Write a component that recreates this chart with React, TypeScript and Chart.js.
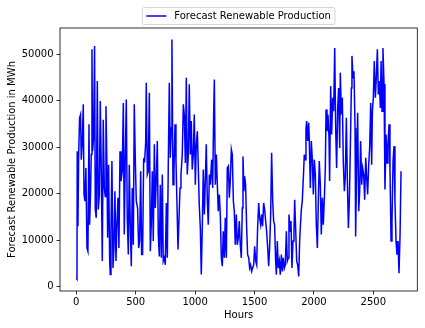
import React, { useEffect, useRef } from "react";
import { Chart, registerables } from "chart.js";

Chart.register(...registerables);

const seriesLabel = "Forecast Renewable Production";
const xTitle = "Hours";
const yTitle = "Forecast Renewable Production in MWh";
const xTicks = [0, 500, 1000, 1500, 2000, 2500];
const yTicks = [0, 10000, 20000, 30000, 40000, 50000];

const hours = [
  0, 6, 8, 14, 20, 28, 36, 42, 51, 59, 65, 73, 81, 90, 98, 107, 112, 121, 126, 132,
  137, 146, 154, 160, 168, 177, 185, 194, 202, 210, 219, 227, 236, 244, 250, 258, 264, 272, 281, 286,
  292, 300, 309, 317, 325, 334, 342, 351, 359, 368, 376, 387, 396, 404, 412, 421, 429, 438, 446, 455,
  463, 471, 480, 488, 497, 505, 516, 525, 533, 542, 550, 558, 567, 575, 584, 589, 598, 606, 615, 623,
  631, 640, 648, 657, 665, 673, 682, 690, 699, 707, 716, 724, 732, 741, 749, 758, 766, 774, 783, 791,
  800, 805, 814, 822, 831, 839, 847, 856, 864, 873, 881, 892, 901, 909, 918, 926, 934, 943, 951, 960,
  968, 976, 985, 993, 1002, 1010, 1019, 1027, 1035, 1044, 1052, 1061, 1069, 1078, 1086, 1094, 1103, 1111, 1120, 1128,
  1139, 1148, 1156, 1162, 1170, 1179, 1187, 1195, 1204, 1212, 1221, 1229, 1237, 1246, 1254, 1263, 1271, 1280, 1288, 1296,
  1305, 1313, 1322, 1330, 1338, 1347, 1355, 1364, 1372, 1380, 1389, 1397, 1403, 1411, 1417, 1425, 1434, 1442, 1451, 1459,
  1467, 1476, 1484, 1493, 1501, 1510, 1518, 1526, 1535, 1543, 1552, 1560, 1568, 1577, 1585, 1594, 1602, 1611, 1619, 1627,
  1636, 1644, 1653, 1661, 1669, 1678, 1684, 1692, 1700, 1709, 1717, 1726, 1734, 1742, 1751, 1759, 1768, 1776, 1785, 1790,
  1799, 1807, 1815, 1824, 1832, 1838, 1846, 1855, 1863, 1872, 1880, 1886, 1894, 1902, 1911, 1919, 1925, 1933, 1939, 1947,
  1956, 1961, 1970, 1978, 1987, 1995, 2003, 2012, 2020, 2029, 2037, 2045, 2054, 2062, 2071, 2079, 2088, 2096, 2102, 2110,
  2118, 2127, 2132, 2141, 2149, 2158, 2166, 2175, 2183, 2191, 2200, 2208, 2217, 2222, 2231, 2239, 2247, 2256, 2264, 2273,
  2281, 2290, 2298, 2306, 2315, 2320, 2329, 2337, 2346, 2351, 2360, 2368, 2377, 2385, 2393, 2402, 2410, 2419, 2427, 2436,
  2444, 2452, 2461, 2469, 2478, 2486, 2492, 2500, 2508, 2517, 2525, 2534, 2542, 2551, 2559, 2565, 2573, 2581, 2590, 2598,
  2607, 2615, 2623, 2632, 2640, 2649, 2657, 2666, 2674, 2682, 2691, 2699, 2708, 2716, 2725, 2733,
];

const production = [
  1800, 1600, 29100, 13000, 28400, 36300, 37000, 27300, 31300, 39200, 19800, 18400, 25500, 8300, 7600, 34900, 13300, 21200, 28400, 51000,
  29100, 32000, 51700, 16600, 14800, 44200, 16600, 19800, 39900, 25500, 5500, 35900, 21200, 19400, 38800, 25500, 10500, 26200, 5500, 2600,
  11900, 27000, 4000, 8300, 20500, 5500, 13300, 19100, 8300, 29100, 22700, 24800, 39500, 11200, 27000, 40200, 14800, 6900, 26200, 12600,
  4400, 21200, 9000, 39200, 27000, 18400, 16900, 8300, 9800, 24800, 6900, 6900, 27300, 27000, 30900, 43800, 24100, 24800, 41700, 7600,
  13300, 24800, 9800, 30600, 16900, 22700, 31300, 11200, 6500, 21900, 6200, 24100, 5500, 6200, 4700, 18000, 6200, 25500, 43800, 27700,
  34100, 53100, 21900, 24800, 34900, 27000, 18400, 8000, 14100, 21200, 24100, 28400, 39200, 37000, 26600, 44900, 24100, 28400, 43500, 28400,
  35600, 25200, 28400, 37000, 21900, 30600, 33400, 25500, 17600, 12600, 2600, 13300, 25200, 15500, 22700, 30600, 18400, 13300, 24100, 21900,
  27300, 21200, 37000, 44500, 21900, 28400, 21900, 16200, 19800, 15500, 6200, 4400, 11900, 6200, 14800, 6200, 25500, 25900, 19100, 22700,
  29500, 28400, 18400, 16200, 9000, 15500, 9000, 10500, 14100, 9000, 6200, 16900, 28000, 20500, 23700, 21900, 12600, 6900, 6200, 4000,
  4700, 3300, 4000, 4700, 8700, 5500, 4700, 12600, 18000, 14800, 13300, 15500, 13000, 18000, 16600, 14100, 11900, 8300, 4400, 8300,
  15500, 28800, 18400, 14100, 13300, 5500, 2600, 9800, 4000, 5500, 2600, 6900, 3300, 6200, 4000, 4700, 11900, 5500, 6200, 15500,
  11900, 14100, 4000, 9800, 11900, 18700, 12600, 5500, 4700, 2200, 9800, 13000, 16600, 18400, 23400, 28400, 27300, 33800, 35600, 31300,
  35200, 31300, 21200, 31300, 27000, 19800, 27300, 24100, 13300, 8300, 18400, 27000, 21900, 11200, 19100, 13300, 19100, 25500, 38100, 33400,
  37000, 32000, 22700, 43100, 32700, 40600, 37700, 51300, 34100, 25500, 38400, 42700, 29800, 46000, 37000, 40600, 27000, 20500, 23400, 36300,
  23400, 12600, 18400, 29100, 42700, 49600, 44900, 46300, 34100, 10800, 27000, 37400, 16200, 20500, 31300, 21900, 25500, 24100, 18700, 27700,
  23400, 19800, 26200, 29800, 39500, 26200, 37700, 40600, 48500, 40600, 44900, 51000, 41300, 44200, 38400, 48500, 37700, 51300, 43500, 20900,
  32700, 26600, 30600, 34900, 25500, 9800, 14100, 27000, 30200, 18400, 9800, 6900, 9800, 2900, 11200, 24800,
];

const FONT = "DejaVu Sans";
const FS = 10;

const framePlugin = {
  id: "frame",
  afterDatasetsDraw(chart: any) {
    const { ctx, chartArea: a } = chart;
    ctx.save();
    ctx.strokeStyle = "#000";
    ctx.lineWidth = 0.8;
    ctx.strokeRect(a.left, a.top, a.right - a.left, a.bottom - a.top);
    ctx.restore();
  },
};

const legendPlugin = {
  id: "mplLegend",
  afterDraw(chart: any) {
    const { ctx, chartArea: a } = chart;
    ctx.save();
    ctx.font = `${FS}px "${FONT}"`;
    const tw = ctx.measureText(seriesLabel).width;
    const pad = 0.4 * FS;
    const handle = 2.0 * FS;
    const gap = 0.8 * FS;
    const w = pad + handle + gap + tw + pad;
    const h = 17;
    const cx = (a.left + a.right) / 2;
    const x0 = cx - w / 2;
    const y0 = 7.5;
    ctx.beginPath();
    const r = 2;
    ctx.moveTo(x0 + r, y0);
    ctx.lineTo(x0 + w - r, y0);
    ctx.quadraticCurveTo(x0 + w, y0, x0 + w, y0 + r);
    ctx.lineTo(x0 + w, y0 + h - r);
    ctx.quadraticCurveTo(x0 + w, y0 + h, x0 + w - r, y0 + h);
    ctx.lineTo(x0 + r, y0 + h);
    ctx.quadraticCurveTo(x0, y0 + h, x0, y0 + h - r);
    ctx.lineTo(x0, y0 + r);
    ctx.quadraticCurveTo(x0, y0, x0 + r, y0);
    ctx.closePath();
    ctx.fillStyle = "rgba(255,255,255,0.8)";
    ctx.fill();
    ctx.strokeStyle = "#cccccc";
    ctx.lineWidth = 0.8;
    ctx.stroke();
    const ly = y0 + h / 2;
    const lx = x0 + pad;
    ctx.beginPath();
    ctx.moveTo(lx, ly);
    ctx.lineTo(lx + handle, ly);
    ctx.strokeStyle = "#0000ff";
    ctx.lineWidth = 1.5;
    ctx.stroke();
    ctx.fillStyle = "#000";
    ctx.textBaseline = "middle";
    ctx.textAlign = "left";
    ctx.fillText(seriesLabel, lx + handle + gap, ly + 0.5);
    ctx.restore();
  },
};

export default function App() {
  const ref = useRef<HTMLCanvasElement | null>(null);
  useEffect(() => {
    if (!ref.current) return;
    const font = { family: FONT, size: FS };
    const chart = new Chart(ref.current, {
      type: "line",
      data: {
        datasets: [
          {
            label: seriesLabel,
            data: hours.map((h, i) => ({ x: h, y: production[i] })),
            borderColor: "#0000ff",
            backgroundColor: "#0000ff",
            borderWidth: 1.5,
            pointRadius: 0,
            tension: 0,
            fill: false,
          },
        ],
      },
      options: {
        animation: false,
        responsive: false,
        events: [],
        layout: { padding: { top: 28, right: 7.7, left: 0, bottom: 0 } },
        plugins: { legend: { display: false }, tooltip: { enabled: false } },
        scales: {
          x: {
            type: "linear",
            min: -137,
            max: 2870,
            afterBuildTicks: (s: any) => {
              s.ticks = xTicks.map((v) => ({ value: v }));
            },
            afterFit: (s: any) => {
              s.height = 37;
            },
            grid: { drawOnChartArea: false, tickLength: 3.5, tickColor: "#000", tickWidth: 0.8 },
            border: { display: false },
            ticks: { color: "#000", font, padding: 2, maxRotation: 0, autoSkip: false, callback: (v: any) => String(v) },
            title: { display: true, text: xTitle, color: "#000", font, padding: { top: 0, bottom: 6.5 } },
          },
          y: {
            type: "linear",
            min: -925,
            max: 55593,
            afterBuildTicks: (s: any) => {
              s.ticks = yTicks.map((v) => ({ value: v }));
            },
            afterFit: (s: any) => {
              s.width = 60;
            },
            grid: { drawOnChartArea: false, tickLength: 3.5, tickColor: "#000", tickWidth: 0.8 },
            border: { display: false },
            ticks: { color: "#000", font, padding: 3, autoSkip: false, callback: (v: any) => String(v) },
            title: { display: true, text: yTitle, color: "#000", font, padding: { top: 6, bottom: 0 } },
          },
        },
      },
      plugins: [framePlugin, legendPlugin],
    } as any);
    return () => chart.destroy();
  }, []);
  return (
    <div style={{ position: "fixed", left: 0, top: 0, width: 425, height: 328, background: "#fff" }}>
      <canvas ref={ref} width={425} height={328} style={{ width: 425, height: 328 }} />
    </div>
  );
}
